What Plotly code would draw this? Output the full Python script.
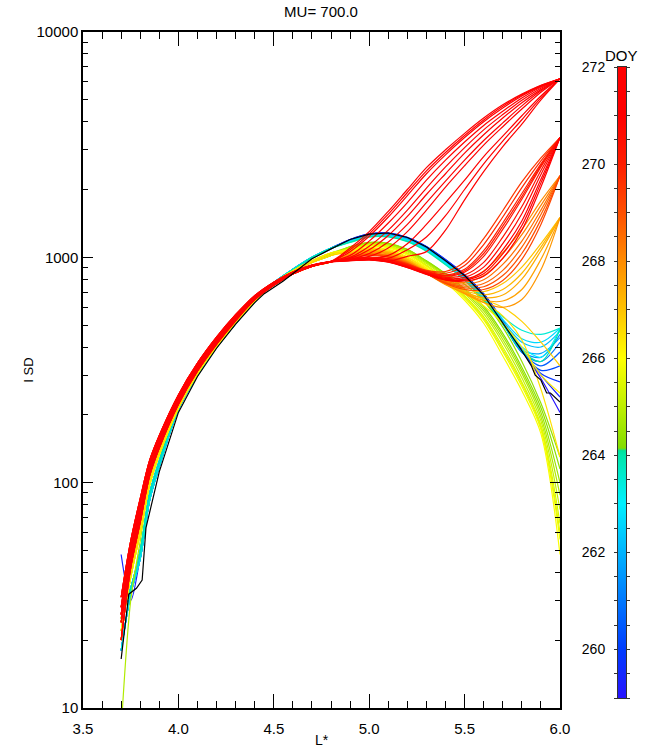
import plotly.graph_objects as go
from plotly.colors import sample_colorscale

# ---------------- data ----------------
TITLE = "MU= 700.0"
X_TITLE = "L*"
Y_TITLE = "I SD"
CB_TITLE = "DOY"

L_LEFT = [3.70, 3.75, 3.80, 3.85, 3.90, 4.00, 4.10, 4.20, 4.30, 4.40, 4.50, 4.60, 4.70, 4.80]
L_RIGHT = [4.90, 5.00, 5.10, 5.20, 5.30, 5.40, 5.50, 5.60, 5.70, 5.80, 5.90, 6.00]

# inner (low L*) part of the profiles, per band
LEFT_R1 = [31, 55, 85, 126, 162, 245, 339, 442, 556, 676, 776, 861, 923, 960]
LEFT_R2 = [28, 51, 80, 121, 157, 239, 332, 434, 548, 669, 770, 856, 920, 958]
LEFT_R3 = [26, 48, 76, 117, 152, 234, 326, 427, 540, 662, 764, 851, 917, 957]
LEFT_R4 = [24, 45, 71, 112, 147, 228, 319, 419, 532, 655, 758, 847, 914, 956]
LEFT_R5 = [20, 42, 67, 108, 143, 223, 313, 412, 524, 649, 752, 843, 912, 955]
LEFT_Y1 = [25, 40, 64, 104, 139, 219, 309, 407, 519, 645, 770, 868, 950, 1020]
LEFT_Y2 = [8, 30, 55, 100, 136, 216, 306, 404, 516, 642, 768, 870, 958, 1035]
LEFT_Y3 = [22, 38, 60, 98, 133, 214, 304, 402, 514, 640, 766, 872, 965, 1045]
LEFT_B1 = [48, 30, 47, 88, 122, 213, 302, 400, 510, 636, 772, 882, 990, 1090]
LEFT_B2 = [18, 32, 46, 84, 118, 211, 300, 398, 508, 634, 770, 885, 1000, 1100]
LEFT_B3 = [25, 34, 50, 90, 125, 216, 305, 403, 512, 638, 773, 880, 995, 1095]

# one entry per profile: day of year, inner band, outer values at L_RIGHT
DOY = [259.0, 259.4, 259.8, 260.2, 260.6, 261.0, 261.4, 261.8,
       262.2, 262.6, 263.0, 263.5, 264.0,
       264.3, 264.4, 264.5, 264.8, 265.1, 265.4, 265.55, 265.7, 265.9,
       266.2, 266.5, 266.8,
       267.0, 267.2, 267.4, 267.6, 267.8,
       268.0, 268.2, 268.5, 268.7, 269.0, 269.2,
       269.5, 269.8, 270.0, 270.15, 270.3, 270.5, 270.8, 271.0, 271.1, 271.2,
       271.3, 271.35, 271.4, 271.5, 271.6, 271.7, 271.8, 271.85, 271.9, 271.95, 272.0]

LEFT_KEY = ["B2", "B1", "B3", "B2", "B3", "B2", "B3", "B2",
            "B3", "B2", "B3", "B2", "B3",
            "Y1", "Y1", "Y3", "Y2", "Y1", "Y3", "Y3", "Y1", "Y3",
            "Y1", "Y3", "Y1",
            "R5", "R4", "R5", "R4", "R5",
            "R3", "R4", "R5", "R3", "R4", "R5",
            "R1", "R2", "R3", "R2", "R4", "R5", "R1", "R2", "R4", "R3",
            "R1", "R3", "R2", "R3", "R4", "R5", "R1", "R2", "R3", "R4", "R5"]

RIGHT_VALUES = [
    [1200, 1270, 1282, 1228, 1118, 978, 838, 690, 525, 390, 290, 205],
    [1198, 1268, 1280, 1225, 1115, 975, 835, 688, 522, 388, 300, 240],
    [1196, 1266, 1278, 1222, 1112, 972, 832, 685, 520, 385, 305, 280],
    [1194, 1264, 1275, 1220, 1110, 970, 830, 682, 518, 382, 315, 330],
    [1192, 1262, 1272, 1217, 1107, 967, 828, 680, 515, 380, 330, 380],
    [1190, 1260, 1270, 1214, 1104, 964, 825, 678, 512, 378, 345, 420],
    [1188, 1258, 1267, 1210, 1100, 960, 822, 675, 510, 382, 360, 455],
    [1185, 1255, 1263, 1206, 1096, 956, 818, 672, 508, 388, 375, 440],
    [1180, 1250, 1256, 1198, 1088, 950, 812, 665, 520, 420, 400, 470],
    [1176, 1245, 1250, 1192, 1082, 944, 806, 660, 530, 435, 420, 485],
    [1172, 1240, 1244, 1186, 1076, 938, 800, 655, 510, 400, 360, 485],
    [1168, 1235, 1238, 1180, 1070, 932, 795, 650, 545, 475, 455, 485],
    [1164, 1230, 1232, 1174, 1064, 926, 790, 645, 505, 385, 345, 480],
    [1115, 1165, 1155, 1085, 965, 845, 725, 605, 460, 325, 215, 115],
    [1112, 1162, 1152, 1082, 962, 850, 760, 640, 490, 345, 225, 130],
    [1110, 1160, 1148, 1078, 958, 836, 715, 592, 447, 315, 205, 100],
    [1105, 1152, 1140, 1068, 948, 825, 702, 578, 432, 305, 196, 88],
    [1098, 1144, 1132, 1058, 938, 814, 690, 562, 418, 292, 188, 76],
    [1090, 1136, 1122, 1046, 925, 800, 675, 545, 400, 280, 180, 66],
    [1086, 1132, 1117, 1040, 918, 792, 668, 536, 390, 275, 176, 60],
    [1082, 1128, 1112, 1034, 912, 787, 660, 528, 382, 268, 172, 56],
    [1075, 1120, 1102, 1022, 900, 775, 645, 510, 365, 256, 165, 48],
    [1068, 1105, 1085, 1005, 893, 783, 690, 610, 510, 400, 300, 250],
    [1060, 1095, 1075, 995, 885, 775, 690, 630, 550, 430, 260, 130],
    [1052, 1085, 1065, 985, 878, 775, 700, 650, 600, 520, 420, 330],
    [1045, 1078, 1058, 978, 872, 782, 722, 705, 765, 905, 1150, 1500],
    [1040, 1072, 1052, 972, 866, 774, 712, 682, 720, 850, 1110, 1500],
    [1035, 1066, 1046, 966, 860, 766, 702, 662, 680, 800, 1070, 1500],
    [1030, 1060, 1040, 960, 855, 760, 695, 645, 640, 720, 980, 1500],
    [1025, 1055, 1035, 955, 850, 755, 690, 630, 600, 650, 880, 1500],
    [1015, 1045, 1025, 955, 865, 795, 790, 870, 1050, 1330, 1780, 2300],
    [1010, 1040, 1020, 950, 860, 790, 775, 830, 990, 1260, 1700, 2300],
    [1005, 1035, 1015, 945, 855, 782, 760, 795, 930, 1180, 1620, 2300],
    [1000, 1030, 1010, 940, 850, 776, 745, 765, 875, 1110, 1550, 2300],
    [997, 1025, 1005, 935, 847, 770, 732, 740, 830, 1040, 1470, 2300],
    [995, 1020, 1000, 930, 845, 765, 720, 720, 790, 980, 1400, 2300],
    [992, 1002, 988, 935, 875, 865, 955, 1210, 1610, 2160, 2760, 3400],
    [988, 998, 983, 930, 870, 850, 920, 1140, 1510, 2040, 2680, 3400],
    [985, 994, 978, 925, 865, 835, 885, 1070, 1420, 1920, 2600, 3400],
    [983, 992, 976, 922, 862, 830, 872, 1040, 1375, 1860, 2560, 3400],
    [982, 990, 974, 920, 860, 825, 860, 1010, 1330, 1810, 2520, 3400],
    [978, 986, 968, 915, 855, 815, 835, 950, 1230, 1680, 2430, 3400],
    [975, 982, 962, 910, 850, 807, 815, 905, 1150, 1560, 2330, 3400],
    [972, 978, 957, 905, 845, 800, 800, 865, 1080, 1450, 2220, 3400],
    [970, 976, 954, 902, 842, 796, 792, 845, 1035, 1385, 2140, 3400],
    [968, 974, 952, 900, 840, 792, 785, 825, 990, 1320, 2050, 3400],
    [1100, 1300, 1600, 2000, 2500, 3000, 3550, 4150, 4750, 5300, 5800, 6200],
    [1080, 1270, 1555, 1940, 2420, 2920, 3470, 4070, 4680, 5250, 5780, 6200],
    [1060, 1240, 1510, 1880, 2350, 2850, 3400, 4000, 4600, 5200, 5750, 6200],
    [1020, 1180, 1420, 1750, 2200, 2700, 3250, 3850, 4450, 5100, 5700, 6200],
    [1000, 1120, 1320, 1620, 2030, 2520, 3070, 3680, 4300, 4980, 5630, 6200],
    [990, 1080, 1250, 1520, 1900, 2350, 2900, 3500, 4150, 4850, 5550, 6200],
    [980, 1040, 1170, 1400, 1750, 2180, 2700, 3300, 3950, 4700, 5480, 6200],
    [975, 1010, 1100, 1300, 1620, 2050, 2550, 3150, 3800, 4550, 5400, 6200],
    [970, 985, 1020, 1150, 1400, 1750, 2200, 2800, 3450, 4250, 5200, 6200],
    [968, 980, 990, 1080, 1230, 1530, 2000, 2600, 3280, 4080, 5100, 6200],
    [965, 975, 960, 1010, 1060, 1320, 1800, 2400, 3100, 3900, 5000, 6200],
]

# black reference profile
L_BLACK = [3.70, 3.74, 3.78, 3.81, 3.83, 3.90, 4.00, 4.10, 4.20, 4.30, 4.40, 4.45,
           4.55, 4.60, 4.70, 4.80, 4.90, 5.00, 5.10, 5.20, 5.30, 5.40, 5.50,
           5.60, 5.70, 5.80, 5.85, 5.87, 5.90, 5.93, 5.95, 6.00]
PSD_BLACK = [16.5, 32, 34, 37, 63, 112, 205, 296, 395, 505, 630, 690,
             785, 845, 985, 1090, 1200, 1268, 1282, 1225, 1112, 965, 830,
             680, 515, 385, 330, 300, 285, 250, 250, 228]

DOY_MIN, DOY_MAX = 259.0, 272.0
CB_TICKS = [260, 262, 264, 266, 268, 270, 272]
X_TICKS = [3.5, 4.0, 4.5, 5.0, 5.5, 6.0]
Y_TICKS = [10, 100, 1000, 10000]
Y_TICKTEXT = ["10", "100", "1000", "10000"]
Y_MINOR = [20, 30, 40, 50, 60, 70, 80, 90, 200, 300, 400, 500, 600, 700, 800, 900,
           2000, 3000, 4000, 5000, 6000, 7000, 8000, 9000]

# colour table (fraction of DOY range -> colour)
COLORSCALE = [
    [0.000, "rgb(40,20,255)"],
    [0.077, "rgb(0,60,255)"],
    [0.154, "rgb(0,120,255)"],
    [0.231, "rgb(0,180,255)"],
    [0.308, "rgb(0,240,255)"],
    [0.385, "rgb(0,230,170)"],
    [0.392, "rgb(0,225,155)"],
    [0.396, "rgb(130,220,0)"],
    [0.462, "rgb(190,240,0)"],
    [0.538, "rgb(255,255,0)"],
    [0.615, "rgb(255,195,0)"],
    [0.692, "rgb(255,140,0)"],
    [0.769, "rgb(255,80,0)"],
    [0.846, "rgb(255,30,0)"],
    [0.923, "rgb(255,0,0)"],
    [1.000, "rgb(255,0,0)"],
]

LEFT = {"R1": LEFT_R1, "R2": LEFT_R2, "R3": LEFT_R3, "R4": LEFT_R4, "R5": LEFT_R5,
        "Y1": LEFT_Y1, "Y2": LEFT_Y2, "Y3": LEFT_Y3,
        "B1": LEFT_B1, "B2": LEFT_B2, "B3": LEFT_B3}

FONT = "Liberation Sans, Arial, sans-serif"

# ---------------- geometry (pixels of the 650x748 page) ----------------
W, H = 650, 748
M_L, M_T, M_B = 83, 32, 40
PLOT_R = 560                 # right edge of the main frame
CB_X0, CB_X1 = 618, 626      # colour bar left / right
CB_Y0, CB_Y1 = 67, 698       # colour bar top / bottom
PW = W - M_L                 # paper width (right margin 0)
PH = H - M_T - M_B


def px_x(p):
    return (p - M_L) / PW


def px_y(p):
    return (H - M_B - p) / PH


fig = go.Figure()

for doy, key, right in zip(DOY, LEFT_KEY, RIGHT_VALUES):
    t = (doy - DOY_MIN) / (DOY_MAX - DOY_MIN)
    col = sample_colorscale(COLORSCALE, [t])[0]
    fig.add_trace(go.Scatter(
        x=L_LEFT + L_RIGHT, y=LEFT[key] + right, mode="lines",
        line=dict(color=col, width=1.2, shape="spline", smoothing=0.9),
        showlegend=False, hoverinfo="skip"))

fig.add_trace(go.Scatter(
    x=L_BLACK, y=PSD_BLACK, mode="lines",
    line=dict(color="black", width=1.2),
    showlegend=False, hoverinfo="skip"))

# colour bar gradient (labels come from the y2 axis drawn over it)
fig.add_trace(go.Scatter(
    x=[None], y=[None], mode="markers", showlegend=False, hoverinfo="skip",
    marker=dict(color=[DOY_MIN], cmin=DOY_MIN, cmax=DOY_MAX, colorscale=COLORSCALE,
                showscale=True,
                colorbar=dict(
                    x=px_x(CB_X0), xanchor="left", xref="paper",
                    y=px_y((CB_Y0 + CB_Y1) / 2), yanchor="middle",
                    len=(CB_Y1 - CB_Y0) / PH, lenmode="fraction",
                    thickness=CB_X1 - CB_X0, thicknessmode="pixels",
                    outlinewidth=0, showticklabels=False, ticks="",
                    xpad=0, ypad=0, bgcolor="rgba(0,0,0,0)", borderwidth=0,
                ))))

# empty trace that makes the colour-bar frame axes (x2/y2) render
fig.add_trace(go.Scatter(x=[None], y=[None], xaxis="x2", yaxis="y2", mode="markers",
                         showlegend=False, hoverinfo="skip"))

fig.update_layout(
    width=W, height=H,
    margin=dict(l=M_L, r=0, t=M_T, b=M_B, pad=0),
    paper_bgcolor="white", plot_bgcolor="rgba(0,0,0,0)",
    font=dict(family=FONT, size=14, color="black"),
    title=dict(text=TITLE, x=px_x(321), xref="paper", xanchor="center", y=0.984,
               yanchor="middle", yref="container",
               font=dict(family=FONT, size=15, color="black")),
    showlegend=False,
    annotations=[dict(text=CB_TITLE, xref="paper", yref="paper", x=px_x(621), y=px_y(55),
                      xanchor="center", yanchor="middle", showarrow=False,
                      font=dict(family=FONT, size=15, color="black"))],
    xaxis=dict(
        domain=[0, px_x(PLOT_R)], anchor="y",
        range=[3.5, 6.0], tickvals=X_TICKS, ticktext=[f"{v:.1f}" for v in X_TICKS],
        ticks="inside", ticklen=14, tickwidth=1, tickcolor="black",
        minor=dict(dtick=0.1, ticks="inside", ticklen=7, tickwidth=1, tickcolor="black",
                   showgrid=False),
        showline=True, linecolor="black", linewidth=1.5, mirror="allticks",
        showgrid=False, zeroline=False, automargin=False, ticklabelstandoff=6,
        tickfont=dict(family=FONT, size=15),
        title=dict(text=X_TITLE, standoff=2, font=dict(family=FONT, size=14)),
    ),
    yaxis=dict(
        domain=[0, 1], anchor="x",
        type="log", range=[1, 4], tickvals=Y_TICKS, ticktext=Y_TICKTEXT,
        ticks="inside", ticklen=10, tickwidth=1, tickcolor="black",
        minor=dict(tickvals=Y_MINOR, ticks="inside", ticklen=5, tickwidth=1,
                   tickcolor="black", showgrid=False),
        showline=True, linecolor="black", linewidth=1.5, mirror="allticks",
        showgrid=False, zeroline=False, automargin=False,
        tickfont=dict(family=FONT, size=15),
        title=dict(text=Y_TITLE, standoff=0, font=dict(family=FONT, size=13)),
    ),
    xaxis2=dict(
        domain=[px_x(CB_X0), px_x(CB_X1)], anchor="y2", range=[0, 1],
        showticklabels=False, ticks="", showline=True, linecolor="#333", linewidth=1,
        mirror=True, showgrid=False, zeroline=False, automargin=False, fixedrange=True,
    ),
    yaxis2=dict(
        domain=[px_y(CB_Y1), px_y(CB_Y0)], anchor="x2", range=[DOY_MIN, DOY_MAX],
        side="left", tickvals=CB_TICKS, ticks="outside", ticklen=3, tickwidth=1,
        tickcolor="#333",
        minor=dict(dtick=0.5, ticks="outside", ticklen=3, tickwidth=1, tickcolor="#333",
                   showgrid=False),
        showline=True, linecolor="#333", linewidth=1, mirror="allticks",
        showgrid=False, zeroline=False, automargin=False, fixedrange=True,
        ticklabelstandoff=6, tickfont=dict(family=FONT, size=14),
    ),
)

fig.write_html("out.html")
